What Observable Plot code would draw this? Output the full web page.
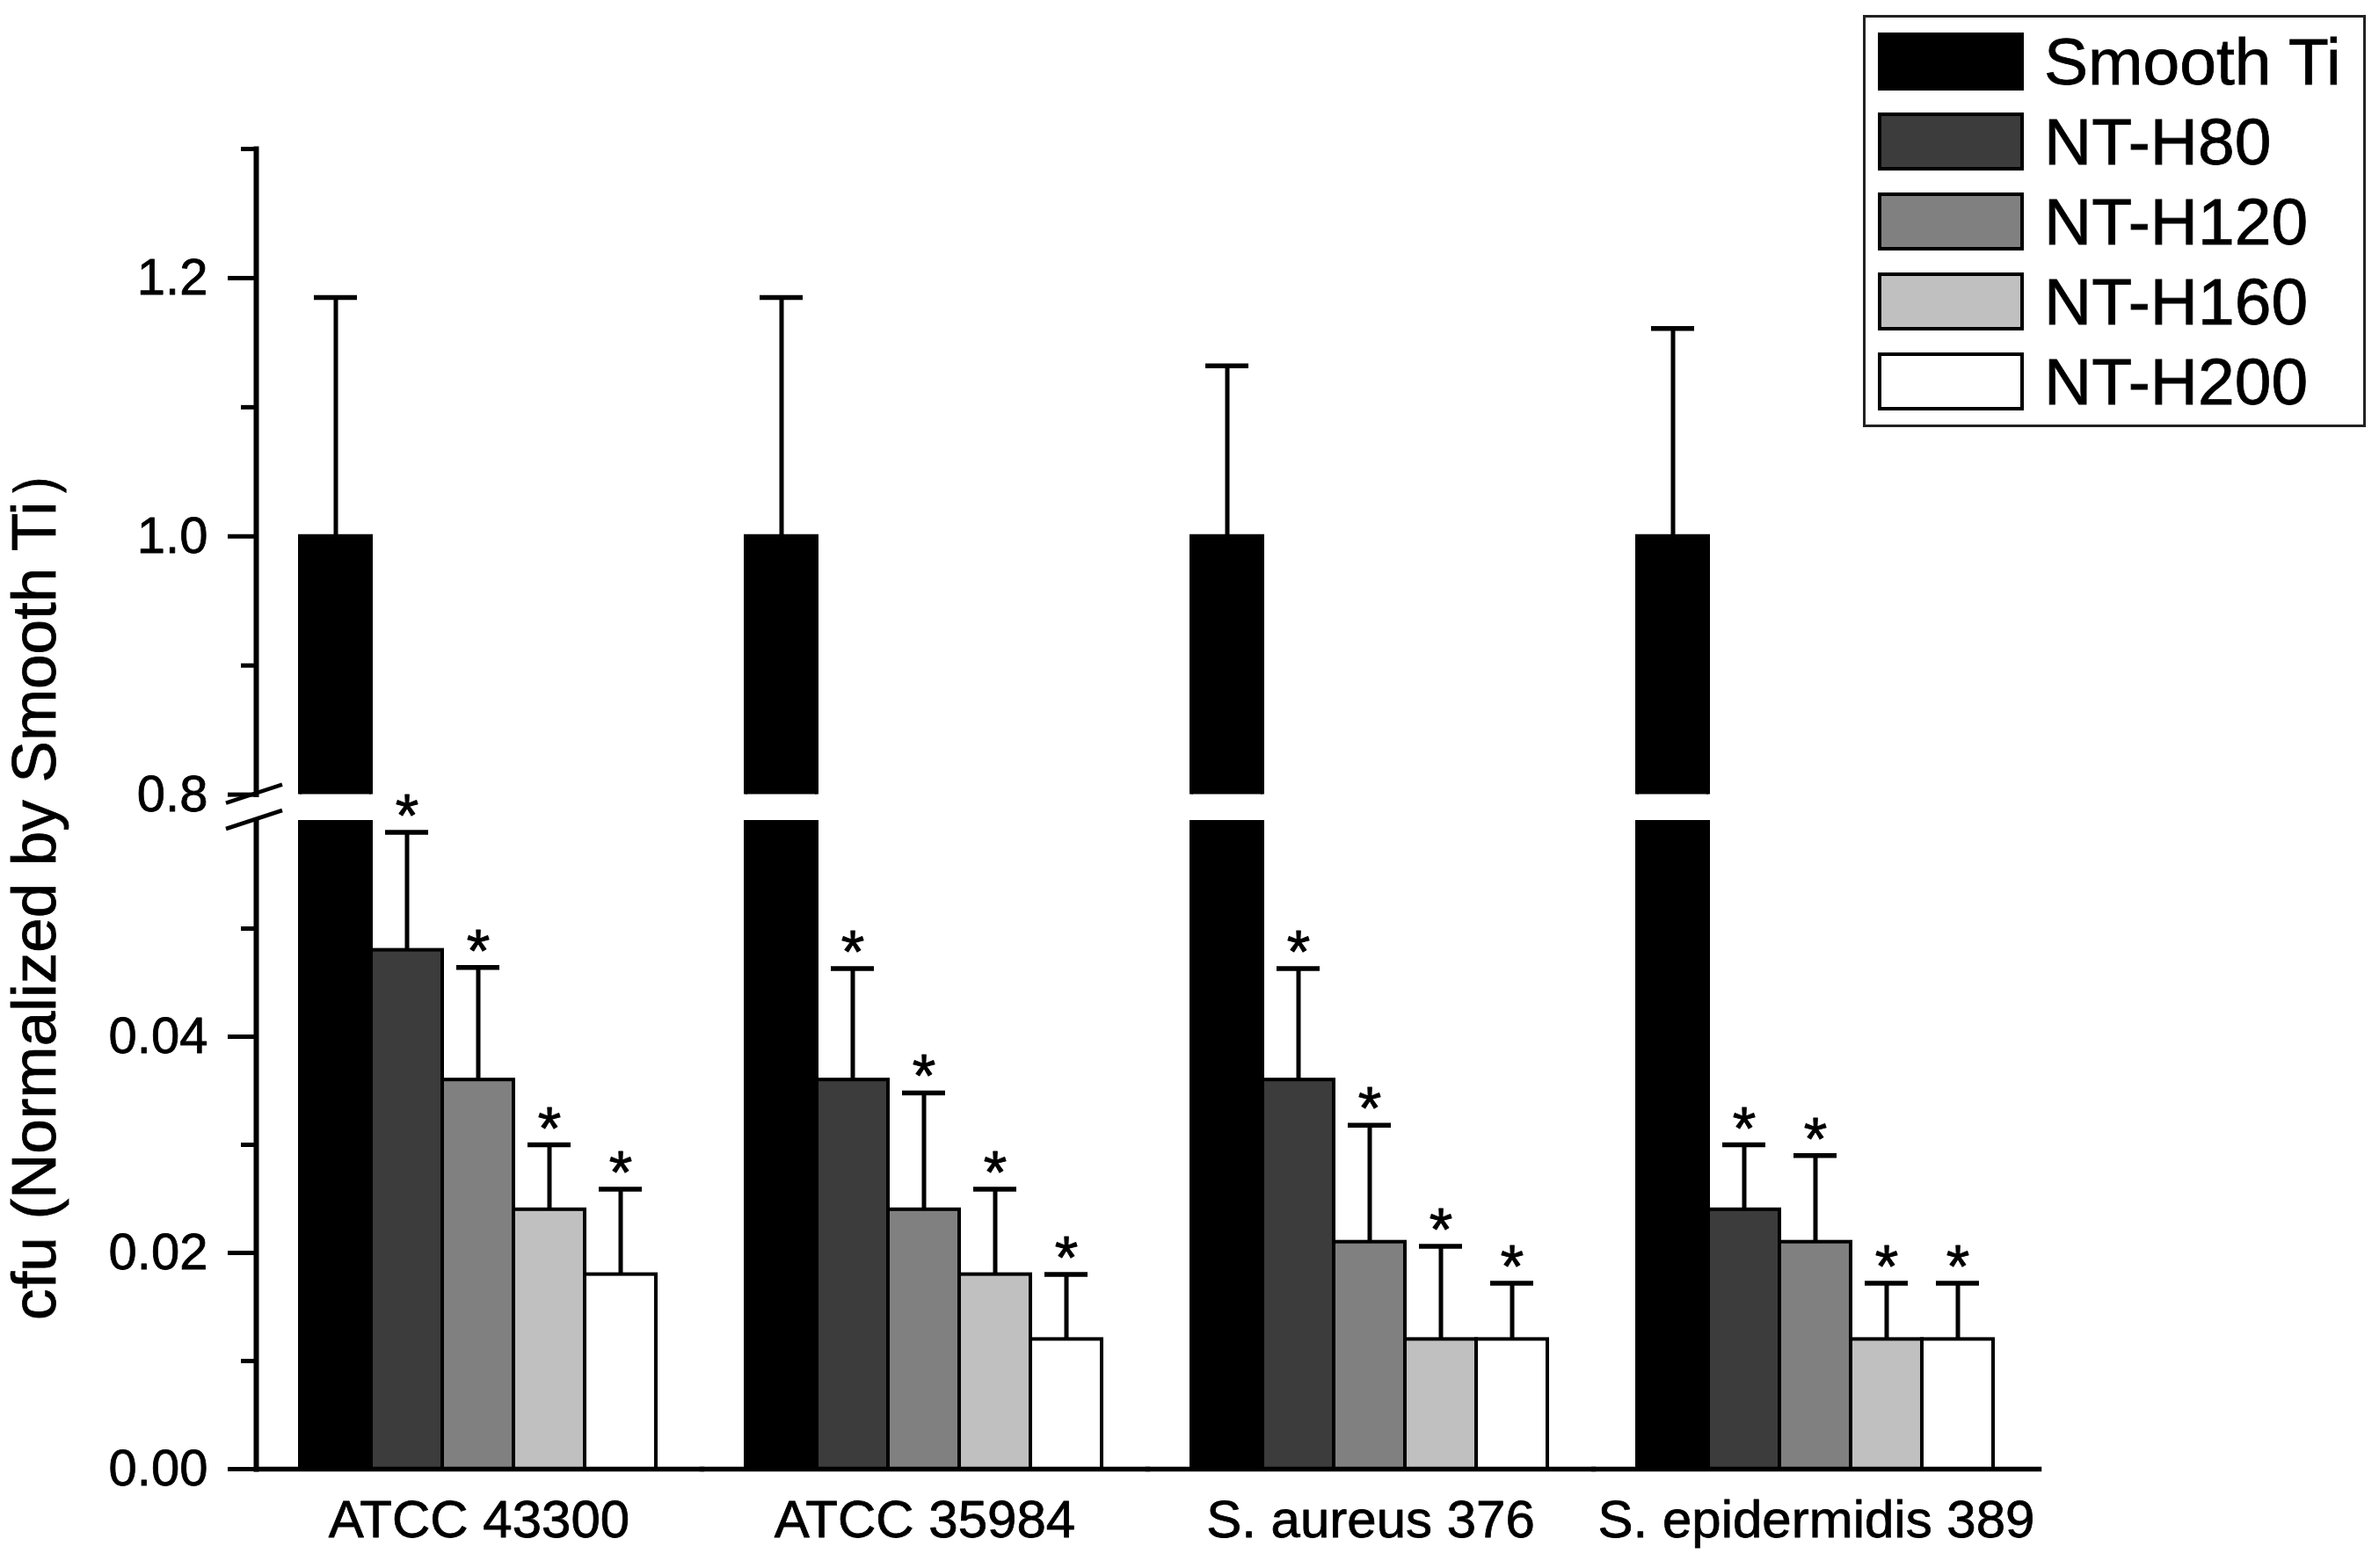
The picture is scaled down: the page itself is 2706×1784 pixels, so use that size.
<!DOCTYPE html>
<html lang="en">
<head>
<meta charset="UTF-8">
<script src="https://cdn.jsdelivr.net/npm/d3@7"></script>
<script src="https://cdn.jsdelivr.net/npm/@observablehq/plot@0.6"></script>
<title>cfu normalized</title>
<style>
  body { margin: 0; background: #fff; }
  #chart { position: relative; width: 2706px; height: 1784px; font-family: "Liberation Sans", Arial, sans-serif; color: #000; }
  #chart svg { position: absolute; left: 0; top: 0; }
  #ylabel { position: absolute; left: 0; top: 0; font-size: 71px; line-height: 1; white-space: nowrap;
            transform-origin: 0 0; transform: translate(3px, 1502px) rotate(-90deg);
            -webkit-text-stroke: 0.8px #000; }
  #legend { position: absolute; left: 2119px; top: 17px; width: 572px; height: 469px; box-sizing: border-box;
            border: 3px solid #222; background: #fff; z-index: 2; }
  #legend .row { position: absolute; left: 14px; height: 66px; display: flex; align-items: center; }
  #legend .sw { width: 166px; height: 66px; box-sizing: border-box; border: 4px solid #000; }
  #legend .lab { margin-left: 23px; font-size: 75px; line-height: 1; white-space: nowrap; -webkit-text-stroke: 0.8px #000; }
</style>
</head>
<body>
<div id="chart"></div>
<script>
const strains = ["ATCC 43300", "ATCC 35984", "S. aureus 376", "S. epidermidis 389"];
const series = ["Smooth Ti", "NT-H80", "NT-H120", "NT-H160", "NT-H200"];
const fills = ["#000000", "#3c3c3c", "#808080", "#c0c0c0", "#ffffff"];

// means, one array per series (in strain order)
const smoothTi = [1, 1, 1, 1];
const h80 = [0.048, 0.036, 0.036, 0.024];
const h120 = [0.036, 0.024, 0.021, 0.021];
const h160 = [0.024, 0.018, 0.012, 0.012];
const h200 = [0.018, 0.012, 0.012, 0.012];

// error bars (upper whisker only)
const sdSmoothTi = [0.185, 0.185, 0.132, 0.161];
const sdH80 = [0.0109, 0.0103, 0.0103, 0.006];
const sdH120 = [0.0104, 0.0108, 0.0108, 0.008];
const sdH160 = [0.006, 0.0079, 0.0086, 0.0052];
const sdH200 = [0.0079, 0.006, 0.0052, 0.0052];

const means = [smoothTi, h80, h120, h160, h200];
const sds = [sdSmoothTi, sdH80, sdH120, sdH160, sdH200];

const rows = series.flatMap((s, i) => strains.map((g, j) => ({
  strain: g, series: s, mean: means[i][j], hi: means[i][j] + sds[i][j]
})));
const starred = rows.filter(d => d.series !== "Smooth Ti");

const W = 2706, H = 1784;
const chart = document.getElementById("chart");

function panel(domain, top, bottom, major, minor, fmt, extras) {
  return Plot.plot({
    width: W, height: H,
    marginLeft: 289, marginRight: 386, marginTop: top, marginBottom: bottom,
    style: {fontFamily: "'Liberation Sans', Arial, sans-serif", fontSize: "58px", background: "transparent", overflow: "visible", color: "#000"},
    fx: {domain: strains, padding: 0, axis: null, label: null},
    x: {domain: series, padding: 0, insetLeft: 49, insetRight: 51, axis: null},
    y: {domain: domain, axis: null},
    color: {domain: series, range: fills},
    marks: [
      Plot.barY(rows, {fx: "strain", x: "series", y: "mean", fill: "series", stroke: "#000", strokeWidth: 4, clip: true}),
      Plot.ruleX(rows, {fx: "strain", x: "series", y1: "mean", y2: "hi", stroke: "#000", strokeWidth: 5, clip: true}),
      Plot.tickY(rows, {fx: "strain", x: "series", y: "hi", stroke: "#000", strokeWidth: 5.5, insetLeft: 16, insetRight: 16, clip: true}),
      Plot.frame({anchor: "left", facetAnchor: "left", strokeWidth: 6}),
      Plot.axisY({ticks: major, tickFormat: fmt, tickSize: 32, tickPadding: 23, strokeWidth: 5, label: null,
                  stroke: "#000", textStroke: "#000", textStrokeWidth: 0.8}),
      Plot.axisY({ticks: minor, tickFormat: () => "", tickSize: 17, strokeWidth: 5, label: null}),
      ...extras
    ]
  });
}

// lower part of the broken axis: 0 - 0.06
const lower = panel([0, 0.06], 933, H - 1671, [0, 0.02, 0.04], [0.01, 0.03, 0.05], d3.format(".2f"), [
  Plot.frame({anchor: "bottom", strokeWidth: 5.5}),
  Plot.text(starred, {fx: "strain", x: "series", y: "hi", text: () => "*", lineAnchor: "bottom", fontSize: 68, dy: 4,
                      stroke: "#000", strokeWidth: 1, fill: "#000"}),
  Plot.axisFx({anchor: "bottom", tickSize: 0, tickPadding: 35, fontSize: 60, label: null,
               textStroke: "#000", textStrokeWidth: 0.8})
]);

// upper part: 0.8 - 1.3
const upper = panel([0.8, 1.3], 169, H - 903.6, [0.8, 1.0, 1.2], [0.9, 1.1, 1.3], d3.format(".1f"), []);

chart.append(lower);
chart.append(upper);

// axis break marks
const x0 = 289;
const breaks = [upper.scale("y").apply(0.8), lower.scale("y").apply(0.06)];
d3.select(upper).selectAll("line.brk").data(breaks).join("line")
  .attr("class", "brk")
  .attr("x1", x0 - 32).attr("y1", d => d + 10)
  .attr("x2", x0 + 32).attr("y2", d => d - 11)
  .attr("stroke", "#000").attr("stroke-width", 4.5);

// y label
const yl = document.createElement("div");
yl.id = "ylabel";
yl.textContent = "cfu (Normalized by Smooth Ti）";
chart.append(yl);

// legend
const lg = d3.select(chart).append("div").attr("id", "legend");
series.forEach((s, i) => {
  const r = lg.append("div").attr("class", "row").style("top", (17 + i * 91) + "px");
  r.append("div").attr("class", "sw").style("background", fills[i]);
  r.append("div").attr("class", "lab").text(s);
});
</script>
</body>
</html>
